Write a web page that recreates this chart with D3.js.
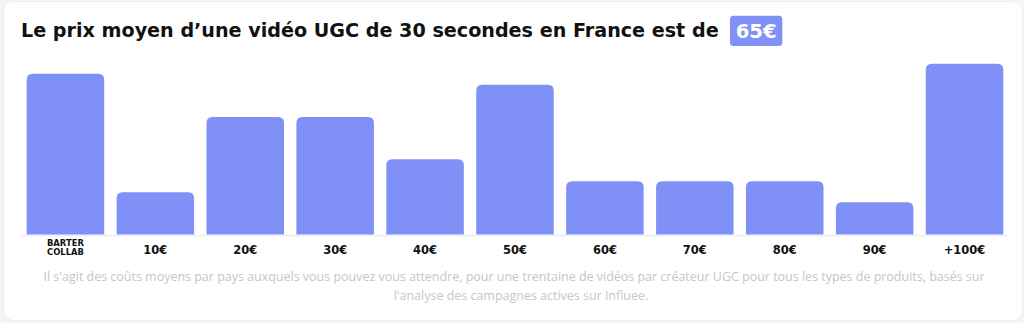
<!DOCTYPE html>
<html><head><meta charset="utf-8">
<script src="https://cdn.jsdelivr.net/npm/d3@7"></script>
<style>
html,body{margin:0;padding:0;background:#f4f5f7;}
svg{display:block;}
</style></head>
<body>
<svg id="chart" width="1024" height="323"></svg>
<script>
const categories = ["BARTER COLLAB","10€","20€","30€","40€","50€","60€","70€","80€","90€","+100€"];
const values = [16.0, 4.2, 11.7, 11.7, 7.5, 14.9, 5.3, 5.3, 5.3, 3.2, 17.0];
const titleText = "Le prix moyen d’une vidéo UGC de 30 secondes en France est de";
const badgeText = "65€";
const footLines = [
  "Il s'agit des coûts moyens par pays auxquels vous pouvez vous attendre, pour une trentaine de vidéos par créateur UGC pour tous les types de produits, basés sur",
  "l'analyse des campagnes actives sur Influee."
];

const W = 1024, H = 323;
const svg = d3.select("#chart");
const BOLD = "'DejaVu Sans', 'Noto Sans', sans-serif";
const FONT = "'Open Sans', 'Noto Sans', sans-serif";
const BLUE = "#7f91f7";

function fit(sel, target){
  const w = sel.node().getComputedTextLength();
  const fs = +sel.attr("font-size");
  sel.attr("font-size", fs*target/w);
  return fs*target/w;
}

// card
svg.append("rect").attr("x",3.5).attr("y",1.5).attr("width",1019).attr("height",319)
  .attr("rx",10).attr("fill","#fff").attr("stroke","#eceef2").attr("stroke-width",1);

// title
const title = svg.append("text").attr("x",21).attr("y",37)
  .attr("font-family",BOLD).attr("font-weight",700).attr("font-size",17)
  .attr("fill","#111").text(titleText);
fit(title, 698);

// badge
svg.append("rect").attr("x",730).attr("y",15.7).attr("width",52.3).attr("height",30.3)
  .attr("rx",3.5).attr("fill",BLUE);
const badge = svg.append("text").attr("x",756.2).attr("y",37.5).attr("text-anchor","middle")
  .attr("font-family",BOLD).attr("font-weight",700).attr("font-size",17)
  .attr("fill","#fff").text(badgeText);
fit(badge, 41);

// scales
const x = d3.scaleBand().domain(categories).range([22.2, 1007.8]).paddingInner(0.138).paddingOuter(0.05);
const y = d3.scaleLinear().domain([0, 17]).range([234.5, 63.7]);

// baseline
svg.append("rect").attr("x",20).attr("y",234.5).attr("width",989).attr("height",2).attr("fill","#f0f1f5");

const r = 6;
function barPath(d, i){
  const x0 = x(categories[i]), w = x.bandwidth(), y0 = y(d), yb = y(0);
  return `M${x0},${yb}V${y0+r}Q${x0},${y0} ${x0+r},${y0}H${x0+w-r}Q${x0+w},${y0} ${x0+w},${y0+r}V${yb}Z`;
}
svg.append("g").selectAll("path").data(values).join("path")
  .attr("d", barPath).attr("fill", BLUE);

// x labels
const lab = svg.append("g");
// size from reference width of "10€"
const probe = lab.append("text").attr("font-family",BOLD).attr("font-weight",700).attr("font-size",11).text("10€");
const labFs = fit(probe, 24);
probe.remove();
categories.forEach(c=>{
  const cx = x(c) + x.bandwidth()/2;
  if (c === "BARTER COLLAB"){
    const parts = c.split(" ");
    const t0 = lab.append("text").attr("font-family",BOLD).attr("font-weight",700).attr("font-size",8).text(parts[0]);
    const bfs = fit(t0, 37);
    t0.remove();
    parts.forEach((p,k)=>{
      lab.append("text").attr("x",cx).attr("y",246.3+k*8.5).attr("text-anchor","middle")
        .attr("font-family",BOLD).attr("font-weight",700).attr("font-size",bfs).attr("fill","#111").text(p);
    });
  } else {
    lab.append("text").attr("x",cx).attr("y",254.2).attr("text-anchor","middle")
      .attr("font-family",BOLD).attr("font-weight",700).attr("font-size",labFs).attr("fill","#111").text(c);
  }
});

// footnote
const f1 = svg.append("text").attr("x",514).attr("y",280.5).attr("text-anchor","middle")
  .attr("font-family",FONT).attr("font-size",11).attr("fill","#c4c6cf").text(footLines[0]);
const fs = fit(f1, 942);
svg.append("text").attr("x",521).attr("y",299.5).attr("text-anchor","middle")
  .attr("font-family",FONT).attr("font-size",fs).attr("fill","#c4c6cf").text(footLines[1]);
</script>
</body></html>
